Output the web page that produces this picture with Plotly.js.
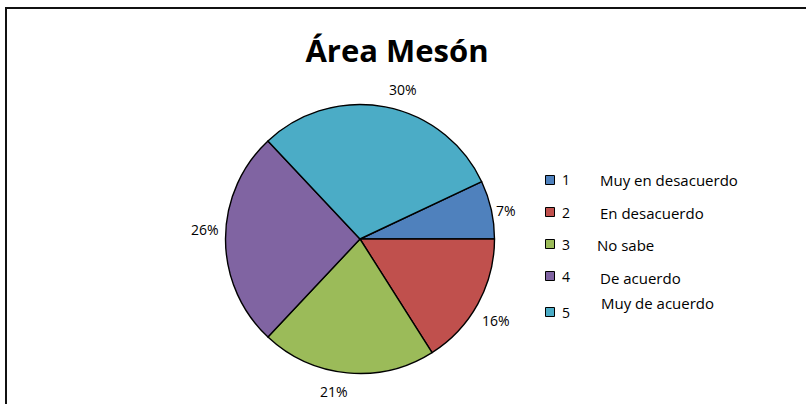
<!DOCTYPE html>
<html>
<head>
<meta charset="utf-8">
<script src="https://cdn.plot.ly/plotly-3.0.1.min.js"></script>
<style>
  html, body { margin: 0; padding: 0; background: #fff; }
  #chart { width: 806px; height: 404px; }
</style>
</head>
<body>
<div id="chart"></div>
<script>
// Survey answers for the "Área Mesón" question (percent of respondents)
const codes = ['1', '2', '3', '4', '5'];
const answers = ['Muy en desacuerdo', 'En desacuerdo', 'No sabe', 'De acuerdo', 'Muy de acuerdo'];
const percents = [7, 16, 21, 26, 30];
const colors = ['#4F81BD', '#C0504D', '#9BBB59', '#8064A2', '#4BACC6'];

const W = 806, H = 404;
const px = x => x / W;          // pixel -> paper x
const py = y => 1 - y / H;      // pixel -> paper y

const FONT = '"Open Sans", Lato, sans-serif';

// Pie position (pixels)
const cx = 360, cy = 239, R = 134.5;

const total = percents.reduce((a, b) => a + b, 0);

const pie = {
  type: 'pie',
  labels: codes,
  values: percents,
  sort: false,
  direction: 'clockwise',
  rotation: 90 - (percents[0] / total) * 360,
  marker: { colors: colors, line: { color: '#000', width: 1.4 } },
  textinfo: 'none',
  hoverinfo: 'label+percent',
  domain: { x: [px(cx - R), px(cx + R)], y: [py(cy + R), py(cy - R)] },
  showlegend: false
};

// Percent labels placed around the pie
const labelPos = [[506, 210], [496, 320], [334, 391], [205, 230], [403, 90]];
const annotations = percents.map((v, i) => ({
  xref: 'paper', yref: 'paper',
  x: px(labelPos[i][0]), y: py(labelPos[i][1]),
  xanchor: 'center', yanchor: 'middle',
  text: v + '%', showarrow: false,
  font: { family: FONT, size: 14, color: '#000' }
}));

// Legend: swatch, code and answer text
const legendRows = [180, 212, 244, 276, 312];
const answerRows = [180, 213, 245, 278, 303];
const answerX = [598, 598, 595, 598, 599];
const shapes = [];
codes.forEach((c, i) => {
  const y = legendRows[i];
  shapes.push({
    type: 'rect', xref: 'paper', yref: 'paper',
    x0: px(545.5), x1: px(554.5), y0: py(y + 4.5), y1: py(y - 4.5),
    fillcolor: colors[i], line: { color: '#000', width: 1 }
  });
  annotations.push({
    xref: 'paper', yref: 'paper', x: px(560), y: py(y),
    xanchor: 'left', yanchor: 'middle', text: c, showarrow: false,
    font: { family: FONT, size: 14, color: '#000' }
  });
  annotations.push({
    xref: 'paper', yref: 'paper', x: px(answerX[i]), y: py(answerRows[i]),
    xanchor: 'left', yanchor: 'middle', text: answers[i], showarrow: false,
    font: { family: FONT, size: 15, color: '#000' }
  });
});

// Chart frame (left and top edges)
shapes.push({
  type: 'path', xref: 'paper', yref: 'paper',
  path: `M ${px(6)} ${py(410)} L ${px(6)} ${py(8)} L ${px(812)} ${py(8)}`,
  line: { color: '#111', width: 2 }
});

const layout = {
  width: W, height: H,
  margin: { l: 0, r: 0, t: 0, b: 0 },
  paper_bgcolor: '#fff',
  title: {
    text: '<b>Área Mesón</b>',
    font: { family: FONT, size: 31, color: '#000' },
    x: px(397), xanchor: 'center',
    y: py(51), yanchor: 'middle'
  },
  annotations: annotations,
  shapes: shapes
};

Plotly.newPlot('chart', [pie], layout, { displayModeBar: false, staticPlot: true });
</script>
</body>
</html>
